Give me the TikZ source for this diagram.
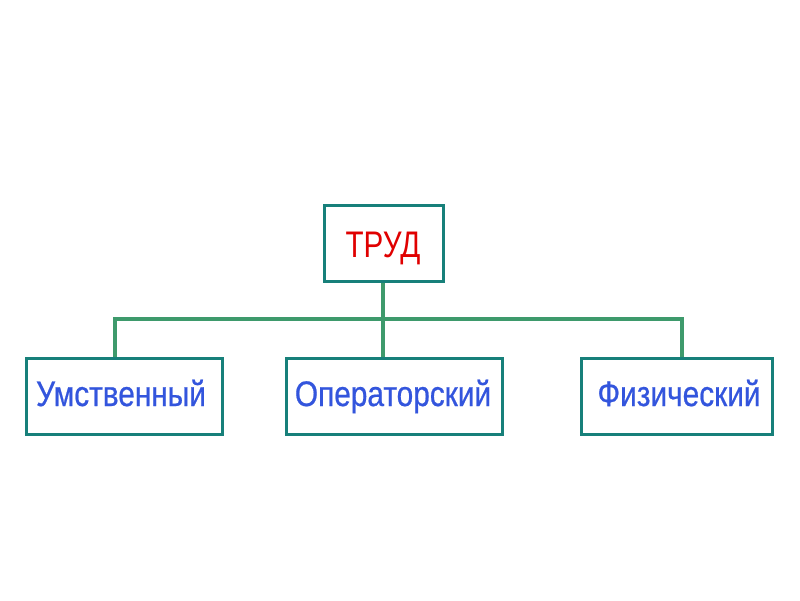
\documentclass[tikz,border=0pt]{standalone}
\usepackage{fontspec}
\setmainfont{Liberation Sans}[FakeStretch=0.84,FakeBold=0.6]
\newfontfamily\redfont{Liberation Sans}[FakeStretch=0.8]
\definecolor{boxline}{HTML}{17807A}
\definecolor{conn}{HTML}{3E9A6C}
\definecolor{txtblue}{HTML}{3355DD}
\definecolor{txtred}{HTML}{E00000}
\begin{document}
\begin{tikzpicture}[x=1pt,y=-1pt,
  box/.style={draw=boxline,line width=2.5pt,fill=white,inner sep=0pt,anchor=north west},
  lbl/.style={font=\fontsize{35.5}{40}\selectfont,text=txtblue,anchor=base,inner sep=0pt},
  conline/.style={draw=conn,line width=4pt}]
\useasboundingbox (0,0) rectangle (800,600);
\node[box,minimum width=119pt,minimum height=76pt] (top) at (323,204) {};
\node[font=\redfont\fontsize{37}{40}\selectfont,text=txtred,anchor=base,inner sep=0pt] (t0) at (383,257) {ТРУД};
\node[box,minimum width=196pt,minimum height=76pt] (b1) at (25,357) {};
\node[box,minimum width=216pt,minimum height=76pt] (b2) at (285,357) {};
\node[box,minimum width=191pt,minimum height=76pt] (b3) at (580,357) {};
\coordinate (h1) at (115,319);
\coordinate (h3) at (682,319);
\coordinate (hm) at (383,319);
\draw[conline] (b1.north -| h1) -- (h1) -- (h3) -- (b3.north -| h3);
\draw[conline] (top.south -| hm) -- (b2.north -| hm);
\node[lbl] (t1) at (121,406) {Умственный};
\node[lbl] (t2) at (393,406) {Операторский};
\node[lbl] (t3) at (679,406) {Физический};
\end{tikzpicture}
\end{document}
